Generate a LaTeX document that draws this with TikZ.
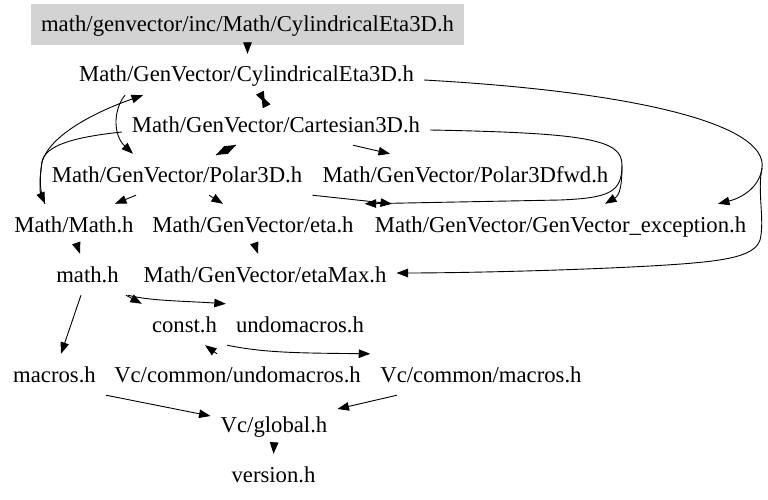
\documentclass[tikz,border=0pt]{standalone}
\usepackage{fontspec}
\setmainfont{Liberation Serif}
\usetikzlibrary{arrows.meta}
\definecolor{boxgray}{HTML}{D3D3D3}
\begin{document}
\begin{tikzpicture}[x=1pt,y=-1pt,
  lbl/.style={font=\fontsize{22.7}{26}\selectfont, inner xsep=10pt, inner ysep=11pt,
              text height=17pt, text depth=2pt, anchor=base},
  conn/.style={line width=0.9pt, -{Triangle[length=11.5pt,width=8.5pt]}},
  plain/.style={line width=0.9pt}]
\useasboundingbox (0,0) rectangle (768,500);
% nodes
\node[lbl,fill=boxgray,minimum width=425pt] (top) at (247.5,32) {math/genvector/inc/Math/CylindricalEta3D.h};
\node[lbl] (cyl) at (246.5,82) {Math/GenVector/CylindricalEta3D.h};
\node[lbl] (cart) at (276,132) {Math/GenVector/Cartesian3D.h};
\node[lbl] (polar) at (177,182) {Math/GenVector/Polar3D.h};
\node[lbl] (pfwd) at (465.5,182) {Math/GenVector/Polar3Dfwd.h};
\node[lbl] (mathh) at (74,232) {Math/Math.h};
\node[lbl] (eta) at (253,232) {Math/GenVector/eta.h};
\node[lbl] (exc) at (560.5,232) {Math/GenVector/GenVector\_exception.h};
\node[lbl] (mh) at (87.5,282) {math.h};
\node[lbl] (etamax) at (265,282) {Math/GenVector/etaMax.h};
\node[lbl] (const) at (184.5,332) {const.h};
\node[lbl] (undo) at (300,332) {undomacros.h};
\node[lbl] (macros) at (54.5,382) {macros.h};
\node[lbl] (vcundo) at (237.5,382) {Vc/common/undomacros.h};
\node[lbl] (vcmac) at (481,382) {Vc/common/macros.h};
\node[lbl] (glob) at (274,432) {Vc/global.h};
\node[lbl] (ver) at (273.5,482) {version.h};
% junctions and crossing points
\coordinate (jl) at (42,162);
\coordinate (jc) at (622,165);
\coordinate (jr) at (762,168);
\coordinate (bt1) at (261.5,96);
\coordinate (bt2) at (265,103);
\coordinate (dm1) at (236,145);
\coordinate (dm2) at (216,155);
% edges
\draw[conn] (top.south) -- (top.south |- cyl.north);
\draw[conn] (bt1) -- (bt2);
\draw[conn] (bt2) -- (bt1);
\draw[conn] (dm1) -- (dm2);
\draw[conn] (dm2) -- (dm1);
\draw[conn] (cart.south -| 353,0) -- (pfwd.north -| 390,0);
\draw[conn] (cyl.south -| 125,0) .. controls (113,110) and (113,135) .. (polar.north -| 133,0);
\draw[conn] (cart.west |- 0,132) .. controls (75,137) and (45,145) .. (jl) .. controls (39,182) and (40,192) .. (mathh.north -| 45,0);
\draw[conn] (mathh.north -| 45,0) .. controls (40,192) and (39,182) .. (jl) .. controls (50,135) and (95,112) .. (cyl.south -| 143,0);
\draw[conn] (polar.south -| 136,0) -- (mathh.north -| 115,0);
\draw[conn] (polar.south -| 209,0) -- (eta.north -| 223,0);
\draw[conn] (polar.south east) -- (exc.north -| 392,0);
\draw[plain] (cart.east |- 0,130) .. controls (590,133) and (622,140) .. (jc);
\draw[conn] (jc) .. controls (622,185) and (620,195) .. (exc.north -| 605,0);
\draw[conn] (jc) .. controls (622,192) and (610,198) .. (560,200) -- (exc.north west);
\draw[plain] (cyl.east |- 0,80) .. controls (640,92) and (768,125) .. (jr);
\draw[conn] (jr) .. controls (760,185) and (745,197) .. (exc.north -| 718,0);
\draw[conn] (jr) .. controls (757,192) and (765,220) .. (760,240) .. controls (754,258) and (720,262) .. (650,266) .. controls (560,271) and (450,273) .. (etamax.east |- 0,273);
\draw[conn] (mathh.south -| 77,0) -- (mh.north -| 80,0);
\draw[conn] (eta.south -| 255,0) -- (etamax.north -| 258,0);
\draw[conn] (mh.south -| 81,0) -- (macros.north -| 61,0);
\draw[conn] (mh.south -| 126,0) -- (const.north west);
\draw[conn] (mh.south -| 128,0) .. controls (150,301) and (185,301) .. (undo.north west);
\draw[conn] (vcundo.north -| 217,0) -- (const.south -| 205,0);
\draw[conn] (const.south east) .. controls (265,353) and (300,353) .. (vcmac.north west);
\draw[conn] (macros.south east) -- (glob.west |- 0,416);
\draw[conn] (vcmac.south -| 397,0) -- (glob.east |- 0,409);
\draw[conn] (glob.south) -- (ver.north);
\end{tikzpicture}
\end{document}
